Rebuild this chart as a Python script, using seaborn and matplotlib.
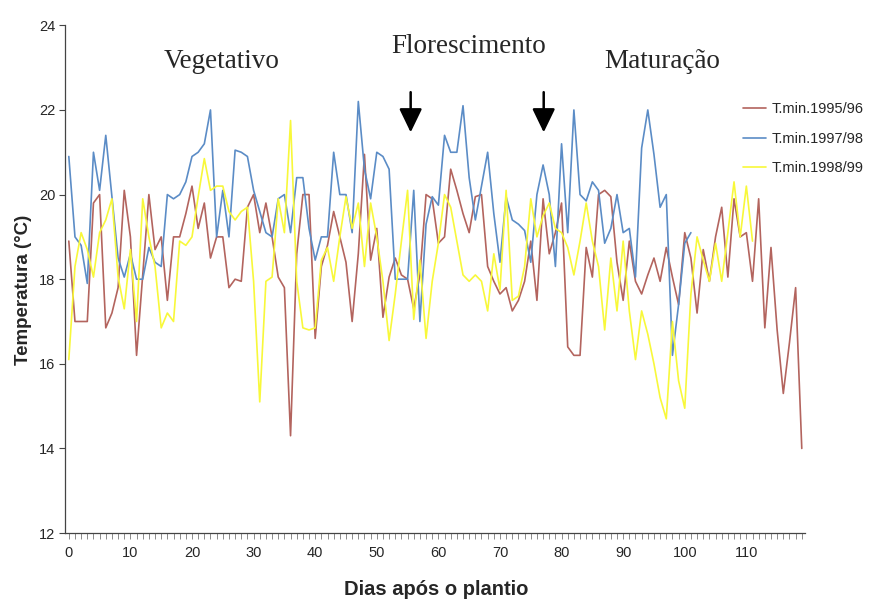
import numpy as np
import pandas as pd
import matplotlib
matplotlib.use("Agg")
import matplotlib.pyplot as plt
import seaborn as sns

# temperaturas minimas diarias (graus C) por dia apos o plantio
t_1995_96 = [18.9, 17.0, 17.0, 17.0, 19.8, 20.0, 16.85, 17.2, 17.8, 20.1,
             19.0, 16.2, 18.1, 20.0, 18.7, 19.0, 17.5, 19.0, 19.0, 19.55,
             20.2, 19.2, 19.8, 18.5, 19.0, 19.0, 17.8, 18.0, 17.95, 19.7,
             20.0, 19.1, 19.8, 19.0, 18.05, 17.8, 14.3, 18.6, 20.0, 20.0,
             16.6, 18.3, 18.8, 19.6, 19.0, 18.4, 17.0, 18.6, 20.95, 18.45,
             19.2, 17.1, 18.05, 18.5, 18.1, 18.0, 17.3, 18.1, 20.0, 19.9,
             18.85, 19.0, 20.6, 20.1, 19.55, 19.1, 19.95, 20.0, 18.3, 17.95,
             17.65, 17.8, 17.25, 17.5, 17.95, 18.9, 17.5, 19.9, 18.6, 19.1,
             19.8, 16.4, 16.2, 16.2, 18.75, 18.05, 20.0, 20.1, 19.95, 18.4,
             17.5, 18.9, 17.95, 17.65, 18.1, 18.5, 17.95, 18.75, 18.05, 17.4,
             19.1, 18.5, 17.2, 18.7, 17.95, 19.0, 19.7, 18.05, 19.9, 19.0,
             19.1, 17.95, 19.9, 16.85, 18.75, 16.8, 15.3, 16.5, 17.8, 14.0]

t_1997_98 = [20.9, 19.0, 18.8, 17.9, 21.0, 20.1, 21.4, 19.95, 18.5, 18.05,
             18.6, 18.0, 18.0, 18.75, 18.4, 18.3, 20.0, 19.9, 20.0, 20.3,
             20.9, 21.0, 21.2, 22.0, 19.0, 20.1, 19.0, 21.05, 21.0, 20.9,
             20.1, 19.6, 19.1, 19.0, 19.9, 20.0, 19.1, 20.4, 20.4, 19.2,
             18.45, 19.0, 19.0, 21.0, 20.0, 20.0, 19.1, 22.2, 20.6, 19.9,
             21.0, 20.9, 20.6, 18.0, 18.0, 18.0, 20.1, 17.0, 19.3, 19.95,
             19.75, 21.4, 21.0, 21.0, 22.1, 20.4, 19.4, 20.2, 21.0, 19.55,
             18.4, 19.95, 19.4, 19.3, 19.15, 18.4, 20.0, 20.7, 20.0, 18.3,
             21.2, 19.1, 22.0, 20.0, 19.85, 20.3, 20.1, 18.85, 19.2, 20.0,
             19.1, 19.2, 18.05, 21.1, 22.0, 20.95, 19.7, 20.0, 16.2, 17.4,
             18.85, 19.1]

t_1998_99 = [16.1, 18.3, 19.1, 18.7, 18.05, 19.1, 19.4, 19.9, 18.05, 17.3,
             18.7, 17.0, 19.9, 19.0, 18.3, 16.85, 17.2, 17.0, 18.9, 18.8,
             19.0, 19.95, 20.85, 20.1, 20.2, 20.2, 19.6, 19.4, 19.6, 19.7,
             17.95, 15.1, 17.95, 18.05, 19.9, 19.1, 21.75, 17.95, 16.85, 16.8,
             16.85, 18.45, 18.75, 17.95, 19.0, 19.95, 19.2, 19.8, 18.3, 19.8,
             19.0, 17.95, 16.55, 17.65, 18.9, 20.1, 17.05, 18.45, 16.6, 17.95,
             18.85, 20.0, 19.7, 18.9, 18.1, 17.95, 18.1, 17.95, 17.25, 18.6,
             17.75, 20.1, 17.5, 17.6, 18.3, 19.9, 19.0, 19.5, 19.8, 19.2,
             19.1, 18.75, 18.1, 18.9, 19.8, 18.9, 18.3, 16.8, 18.5, 17.25,
             18.9, 17.25, 16.1, 17.25, 16.7, 16.0, 15.2, 14.7, 17.0, 15.6,
             14.95, 17.65, 19.0, 18.45, 17.95, 18.85, 17.95, 19.1, 20.3, 19.0,
             20.2, 18.9]

series_names = ["T.min.1995/96", "T.min.1997/98", "T.min.1998/99"]
series_vals = [t_1995_96, t_1997_98, t_1998_99]

fases = ["Vegetativo", "Florescimento", "Maturação"]
fases_x = [24.8, 64.9, 96.3]
fases_y = [23.15, 23.5, 23.15]
setas_x = [55.5, 77.1]

x_ticks = list(range(0, 120))
x_labels = [str(d) if d % 10 == 0 else "" for d in x_ticks]
y_ticks = [12, 14, 16, 18, 20, 22, 24]

frames = []
for name, vals in zip(series_names, series_vals):
    frames.append(pd.DataFrame({"dia": np.arange(len(vals)), "temp": vals, "serie": name}))
df = pd.concat(frames, ignore_index=True)

sns.set_style("white")
plt.rcParams["font.family"] = ["Liberation Sans Narrow", "Liberation Sans", "DejaVu Sans"]

fig = plt.figure(figsize=(8.92, 6.03), dpi=100)
ax = fig.add_axes([0.073, 0.116, 0.83, 0.842])

palette = {
    "T.min.1995/96": "#b3645e",
    "T.min.1997/98": "#5b8cc6",
    "T.min.1998/99": "#f8f83a",
}
sns.lineplot(data=df, x="dia", y="temp", hue="serie", palette=palette,
             linewidth=1.2, ax=ax, legend=False)

ax.set_xlim(-0.6, 119.6)
ax.set_ylim(12, 24)
ax.set_xticks(x_ticks)
ax.set_xticklabels(x_labels, fontsize=10.5)
ax.set_yticks(y_ticks)
ax.set_yticklabels([str(v) for v in y_ticks], fontsize=10.5)
ax.tick_params(axis="x", bottom=True, length=4, width=0.6, color="#777777",
               direction="out", pad=5)
ax.tick_params(axis="y", left=True, length=4, width=0.8, color="#444444",
               direction="out", pad=3)

for s in ["top", "right"]:
    ax.spines[s].set_visible(False)
for s in ["left", "bottom"]:
    ax.spines[s].set_color("#444444")
    ax.spines[s].set_linewidth(0.9)

ax.set_xlabel("Dias após o plantio", fontsize=14.5, fontweight="bold",
              family=["Liberation Sans", "DejaVu Sans"])
ax.xaxis.set_label_coords(0.501, -0.092)
ax.set_ylabel("Temperatura (°C)", fontsize=13.5, fontweight="bold",
              family=["Liberation Sans", "DejaVu Sans"])
ax.yaxis.set_label_coords(-0.045, 0.478)

for txt, fx, fy in zip(fases, fases_x, fases_y):
    ax.text(fx, fy, txt, ha="center", va="center", fontsize=19.5,
            family=["Liberation Serif", "DejaVu Serif"])

for sx in setas_x:
    ax.annotate("", xy=(sx, 21.47), xytext=(sx, 22.42),
                arrowprops=dict(arrowstyle="-|>,head_width=0.7,head_length=1.45",
                                color="black", lw=1.8, shrinkA=0, shrinkB=0))

handles = [plt.Line2D([], [], color=palette[n], lw=1.2) for n in series_names]
ax.legend(handles, series_names, loc="upper left", bbox_to_anchor=(0.818, 0.852),
          bbox_transform=fig.transFigure, frameon=False,
          handlelength=1.6, handletextpad=0.4, labelspacing=1.05,
          prop={"family": ["Liberation Sans", "DejaVu Sans"], "size": 10.5})

fig.savefig("out.png", dpi=100)
